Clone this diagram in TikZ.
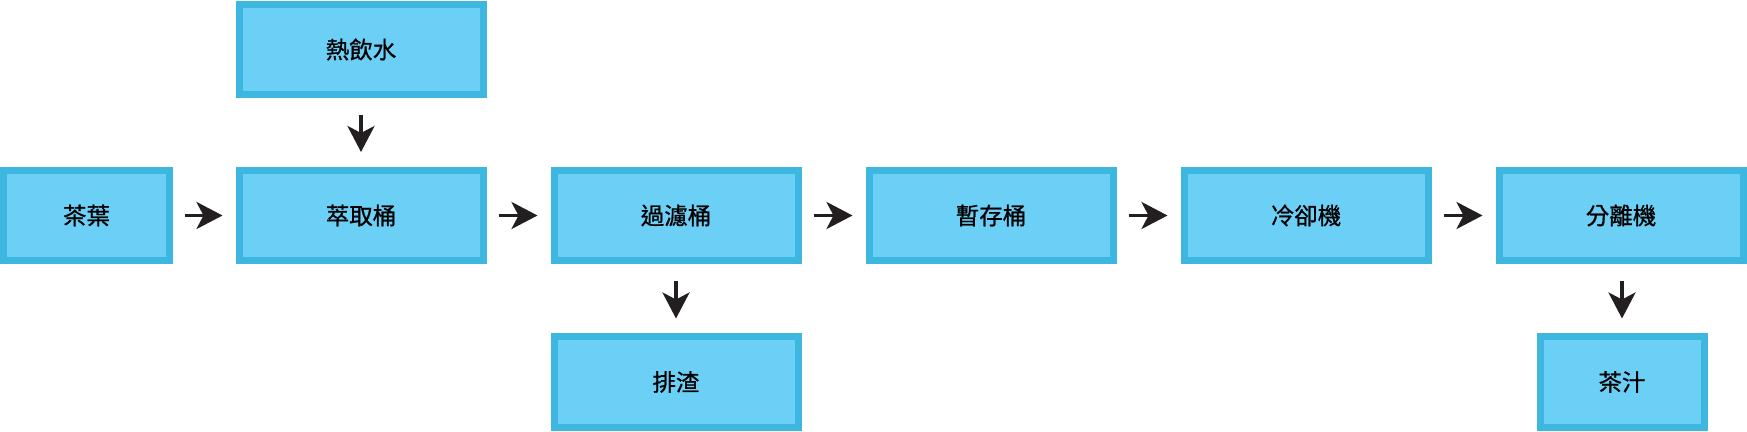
\documentclass[tikz,border=0pt]{standalone}
\usepackage{fontspec}
\setmainfont[FakeBold=0.8]{Noto Sans CJK TC}
\usetikzlibrary{arrows.meta}
\definecolor{boxline}{HTML}{3DB6E0}
\definecolor{boxfill}{HTML}{6CCFF6}
\definecolor{arrowdark}{HTML}{231F20}

\begin{document}
\begin{tikzpicture}[x=1pt, y=1pt,
	stepbox/.style={draw=boxline, fill=boxfill, line width=7pt, inner sep=0pt, minimum width=244pt, minimum height=90pt, font=\fontsize{23.5}{23.5}\selectfont},
	flow/.style={line width=3.5pt, arrowdark, -{Stealth[length=26pt, width=27pt, inset=7pt]}, shorten <=12pt, shorten >=13pt},
	flowdown/.style={flow, shorten <=17pt, shorten >=15pt}]
	\useasboundingbox (0,0) rectangle (1747,431);
	\node[stepbox, minimum width=166pt] (leaves) at (86.5,215.5) {茶葉};
	\node[stepbox] (water) at (361,381.5) {熱飲水};
	\node[stepbox] (extract) at (361,215.5) {萃取桶};
	\node[stepbox] (filter) at (676,215.5) {過濾桶};
	\node[stepbox] (residue) at (676,49) {排渣};
	\node[stepbox] (buffer) at (991,215.5) {暫存桶};
	\node[stepbox] (cooler) at (1306,215.5) {冷卻機};
	\node[stepbox] (separator) at (1621,215.5) {分離機};
	\node[stepbox, minimum width=164pt] (juice) at (1622,49) {茶汁};
	\draw[flow] (leaves.east) -- (extract.west);
	\draw[flow] (extract.east) -- (filter.west);
	\draw[flow] (filter.east) -- (buffer.west);
	\draw[flow] (buffer.east) -- (cooler.west);
	\draw[flow] (cooler.east) -- (separator.west);
	\draw[flowdown] (water.south) -- (extract.north);
	\draw[flowdown] (filter.south) -- (residue.north);
	\draw[flowdown] (separator.south -| juice.north) -- (juice.north);
\end{tikzpicture}
\end{document}
